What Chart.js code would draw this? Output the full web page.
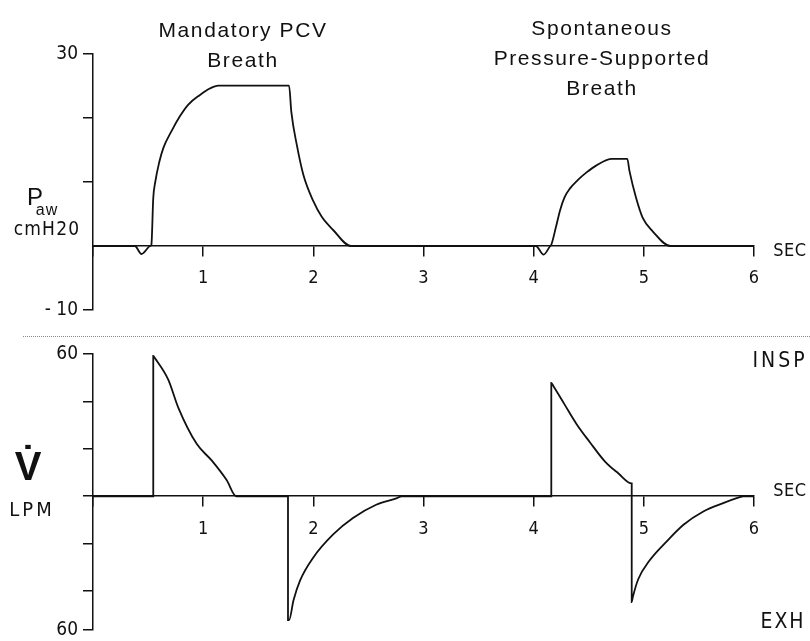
<!DOCTYPE html>
<html>
<head>
<meta charset="utf-8">
<script src="https://cdn.jsdelivr.net/npm/chart.js@4.4.0/dist/chart.umd.min.js"></script>
<style>
  body { margin: 0; background: #fff; }
  #page { position: relative; width: 810px; height: 641px; overflow: hidden; background: #fff; color: #111;
          font-family: "Liberation Sans", Arial, sans-serif; }
  canvas { position: absolute; left: 0; }
  #pressure { top: 0; }
  #flow { top: 336px; }
  #sep { position: absolute; left: 23px; right: 0; top: 336px; border-top: 1px dotted #888; }
  .title { position: absolute; font-size: 21px; letter-spacing: 1.6px; line-height: 30px; text-align: center;
           transform: translateX(-50%); white-space: nowrap; }
  .lbl { position: absolute; font-family: "Liberation Sans Narrow", "DejaVu Sans Condensed", sans-serif;
         font-size: 20px; line-height: 1; white-space: nowrap; transform: translate(-50%, -50%); }
</style>
</head>
<body>
<div id="page">
  <canvas id="pressure" width="810" height="330"></canvas>
  <canvas id="flow" width="810" height="310"></canvas>
  <div id="sep"></div>

  <div class="title" style="left:243px; top:15px;">Mandatory PCV<br>Breath</div>
  <div class="title" style="left:602px; top:13px;">Spontaneous<br>Pressure-Supported<br>Breath</div>

  <div class="lbl" style="left:35px; top:197px; font-family:'Liberation Sans',sans-serif; font-size:24px;">P</div>
  <div class="lbl" style="left:47px; top:210px; font-family:'Liberation Sans',sans-serif; font-size:16px; letter-spacing:1px;">aw</div>
  <div class="lbl" style="left:47px; top:228px; font-size:19px; letter-spacing:1.2px;">cmH20</div>
  <div class="lbl" style="left:28px; top:466px; font-family:'Liberation Sans',sans-serif; font-size:40px; font-weight:bold;">V̇</div>
  <div class="lbl" style="left:32px; top:509px; letter-spacing:3px;">LPM</div>
  <div class="lbl" style="left:790px; top:250px; font-size:18px; letter-spacing:0.5px;">SEC</div>
  <div class="lbl" style="left:790px; top:490px; font-size:18px; letter-spacing:0.5px;">SEC</div>
  <div class="lbl" style="left:780px; top:360px; font-size:21px; letter-spacing:3px;">INSP</div>
  <div class="lbl" style="left:783px; top:621px; font-size:21px; letter-spacing:2px;">EXH</div>
</div>

<script>
// airway pressure, cmH2O vs seconds
const pressureTime  = [0, 0.38, 0.44, 0.52, 0.53, 0.547, 0.565, 0.6, 0.638, 0.714, 0.79, 0.865, 0.971, 1.06, 1.137,
                       1.78, 1.80, 1.85, 1.91, 2.0, 2.075, 2.18, 2.34,
                       4.02, 4.09, 4.15, 4.16, 4.2, 4.24, 4.28, 4.33, 4.4, 4.48, 4.57, 4.71, 4.85,
                       4.87, 4.93, 4.99, 5.08, 5.24, 6];
const pressureValue = [0, 0, -1.25, 0, 0.2, 7.5, 10, 13, 15.3, 18, 20.3, 22.1, 23.6, 24.6, 25.05,
                       25.05, 21, 15.8, 11.1, 7.0, 4.6, 2.5, 0,
                       0, -1.35, 0, 0.2, 2.8, 5.6, 7.6, 9.0, 10.3, 11.5, 12.6, 13.6, 13.6,
                       11.7, 7.5, 4.4, 2.3, 0, 0];

// flow, LPM vs seconds (insp +, exh -)
const flowTime  = [0, 0.547, 0.547, 0.563, 0.683, 0.774, 0.941, 1.077, 1.213, 1.30,
                   1.77, 1.77, 1.78, 1.82, 1.88, 2.0, 2.18, 2.36, 2.57, 2.76, 2.8,
                   4.16, 4.16, 4.18, 4.28, 4.39, 4.51, 4.65, 4.77, 4.89,
                   4.89, 4.90, 4.95, 5.05, 5.21, 5.36, 5.54, 5.72, 5.87, 5.9, 6];
const flowValue = [0, 0, 59.2, 58.2, 49.2, 37.4, 22.1, 15.1, 6.8, 0,
                   0, -52.2, -52.2, -43.9, -35.5, -25.8, -16.1, -9.2, -3.6, -0.8, 0,
                   0, 47.8, 46.4, 38.75, 30.4, 22.8, 14.5, 9.6, 5.4,
                   -44.6, -42.5, -34.9, -27.2, -18.9, -12, -6.4, -2.9, -0.4, 0, 0];

const pressureMin = -10, pressureMax = 30;
const flowMin = -56.25, flowMax = 60;
const flowTicks = [-56.25, -40, -20, 0, 20, 40, 60];

const ink = '#111';
const tickFont = { family: '"Liberation Sans Narrow", "DejaVu Sans Condensed", sans-serif', size: 19 };

function makePanel(id, xs, ys, yScale, pad) {
    return new Chart(document.getElementById(id), {
        type: 'line',
        data: {
            datasets: [{
                data: xs.map((x, i) => ({ x: x, y: ys[i] })),
                borderColor: ink,
                borderWidth: 1.8,
                pointRadius: 0,
                cubicInterpolationMode: 'monotone',
                fill: false
            }]
        },
        options: {
            responsive: false,
            animation: false,
            layout: { padding: pad },
            plugins: { legend: { display: false }, tooltip: { enabled: false } },
            scales: {
                x: {
                    type: 'linear', min: 0, max: 6,
                    position: { y: 0 },
                    ticks: { stepSize: 1, color: ink, font: { ...tickFont, size: 18 }, padding: 12, maxRotation: 0,
                             callback: v => v === 0 ? '' : v },
                    grid: { drawOnChartArea: false, drawTicks: true, tickLength: 10, color: ink, lineWidth: 1.5 },
                    border: { display: true, color: ink, width: 1.5 }
                },
                y: Object.assign({
                    type: 'linear',
                    position: 'left',
                    afterFit: s => { s.width = 93; },
                    border: { display: true, color: ink, width: 1.5 }
                }, yScale)
            }
        }
    });
}

makePanel('pressure', pressureTime, pressureValue, {
    min: pressureMin, max: pressureMax,
    ticks: { stepSize: 10, color: ink, font: tickFont, padding: 5,
             callback: v => v === 30 ? '30' : (v === -10 ? '- 10' : '') },
    grid: { drawOnChartArea: false, drawTicks: true, tickLength: 10, lineWidth: 1.5,
            color: c => (c.tick && c.tick.value === 0) ? 'rgba(0,0,0,0)' : ink }
}, { left: 0, right: 56, top: 54, bottom: 20 });

makePanel('flow', flowTime, flowValue, {
    min: flowMin, max: flowMax,
    afterBuildTicks: s => { s.ticks = flowTicks.map(v => ({ value: v })); },
    ticks: { color: ink, font: tickFont, padding: 5,
             callback: v => (v === flowMax || v === flowMin) ? '60' : '' },
    grid: { drawOnChartArea: false, drawTicks: true, tickLength: 10, lineWidth: 1.5, color: ink }
}, { left: 0, right: 56, top: 18, bottom: 13 });
</script>
</body>
</html>
